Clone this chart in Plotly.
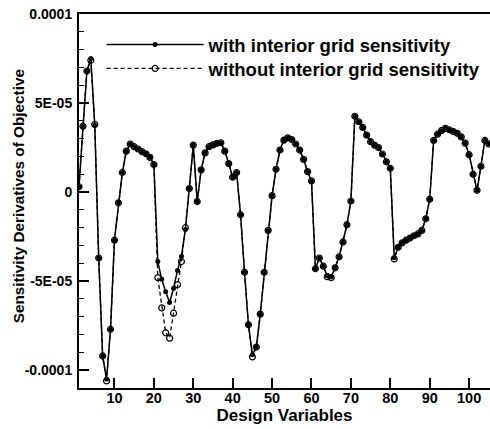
import plotly.graph_objects as go

design_vars = list(range(1, 106))

# values in units of 1E-05
with_grid = [
    0.3, 3.7, 6.8, 7.5, 3.76, -3.7, -9.2, -10.5, -7.7, -2.7,
    -0.6, 1.1, 2.3, 2.7, 2.55, 2.42, 2.27, 2.15, 1.95, 1.55,
    -3.9, -4.9, -5.6, -6.2, -5.4, -4.4, -3.6, -2.1, 0.2, 2.64,
    -0.53, 1.25, 2.2, 2.55, 2.65, 2.74, 2.77, 2.3, 1.6, 0.84,
    1.1, -1.27, -4.5, -7.45, -9.13, -8.7, -6.85, -4.5, -2.15, -0.2,
    1.28, 2.36, 2.92, 3.05, 2.95, 2.7, 2.36, 1.84, 1.15, 0.63,
    -4.3, -3.7, -4.16, -4.7, -4.75, -4.25, -3.63, -2.8, -1.83, -0.5,
    4.26, 3.95, 3.63, 3.2, 2.83, 2.64, 2.5, 2.14, 1.7, 1.34,
    -3.69, -3.1, -2.85, -2.7, -2.58, -2.45, -2.35, -2.15, -1.5, -0.4,
    2.9, 3.25, 3.45, 3.58, 3.5, 3.4, 3.3, 3.1, 2.75, 2.1,
    1.0, 0.1, 1.45, 2.9, 2.7,
]
without_grid = [
    0.3, 3.7, 6.8, 7.4, 3.8, -3.7, -9.2, -10.6, -7.7, -2.7,
    -0.6, 1.1, 2.3, 2.7, 2.55, 2.42, 2.27, 2.15, 1.95, 1.55,
    -4.8, -6.5, -7.9, -8.2, -6.8, -5.2, -3.9, -2.0, 0.2, 2.64,
    -0.53, 1.25, 2.2, 2.55, 2.65, 2.74, 2.77, 2.3, 1.6, 0.84,
    1.1, -1.27, -4.5, -7.45, -9.25, -8.7, -6.85, -4.5, -2.15, -0.2,
    1.28, 2.36, 2.92, 3.05, 2.95, 2.7, 2.36, 1.84, 1.15, 0.63,
    -4.3, -3.7, -4.16, -4.75, -4.8, -4.25, -3.63, -2.8, -1.83, -0.5,
    4.26, 3.95, 3.63, 3.2, 2.83, 2.64, 2.5, 2.14, 1.7, 1.34,
    -3.75, -3.1, -2.85, -2.7, -2.58, -2.45, -2.35, -2.15, -1.5, -0.4,
    2.9, 3.25, 3.45, 3.58, 3.5, 3.4, 3.3, 3.1, 2.75, 2.1,
    1.0, 0.1, 1.45, 2.9, 2.7,
]
scale = 1e-5

y_tickvals = [-1e-4, -5e-5, 0, 5e-5, 1e-4]
y_ticktext = ["-0.0001", "-5E-05", "0", "5E-05", "0.0001"]
x_tickvals = [10, 20, 30, 40, 50, 60, 70, 80, 90, 100]

FONT = "Liberation Sans, Arial, sans-serif"
legend_common = dict(
    xanchor="left", yanchor="top",
    bgcolor="rgba(0,0,0,0)", borderwidth=0,
    font=dict(size=18.5, family=FONT, weight="bold"),
    itemwidth=97,
)

fig = go.Figure()
fig.add_trace(go.Scatter(
    x=design_vars, y=[v * scale for v in without_grid],
    mode="lines+markers", name="without interior grid sensitivity",
    line=dict(color="black", width=1.3, dash="4px,3px"),
    marker=dict(symbol="circle-open", size=6, color="black", line=dict(width=1.2)),
    legend="legend2",
))
fig.add_trace(go.Scatter(
    x=design_vars, y=[v * scale for v in with_grid],
    mode="lines+markers", name="with interior grid sensitivity",
    line=dict(color="black", width=1.5),
    marker=dict(symbol="circle", size=5, color="black"),
    legend="legend",
))

fig.add_annotation(
    text="Sensitivity Derivatives of Objective",
    xref="paper", yref="paper", x=-0.148, y=0.513,
    xanchor="center", yanchor="middle", textangle=-90, showarrow=False,
    font=dict(size=15.3, family=FONT, weight="bold", color="black"),
)

fig.update_layout(
    width=490, height=429,
    margin=dict(l=79, r=0, t=14, b=41),
    paper_bgcolor="white", plot_bgcolor="white",
    font=dict(family=FONT, color="black"),
    showlegend=True,
    legend=dict(x=0.055, y=0.968, **legend_common),
    legend2=dict(x=0.055, y=0.904, **legend_common),
    xaxis=dict(
        range=[1, 105.3], showgrid=False, zeroline=False,
        showline=True, linecolor="black", linewidth=2, mirror=True,
        ticks="inside", ticklen=10, tickwidth=1.5, tickcolor="black",
        tickmode="array", tickvals=x_tickvals,
        tickfont=dict(size=14.5, family=FONT, weight="bold"),
        ticklabelstandoff=-4,
        title=dict(text="Design Variables", font=dict(size=17, family=FONT, weight="bold"), standoff=2),
    ),
    yaxis=dict(
        range=[-0.00011, 0.0001], showgrid=False, zeroline=False,
        showline=True, linecolor="black", linewidth=2,
        ticks="inside", ticklen=10, tickwidth=1.5, tickcolor="black",
        tickmode="array", tickvals=y_tickvals, ticktext=y_ticktext,
        minor=dict(tickmode="linear", tick0=0, dtick=1e-5, ticks="inside", ticklen=5, tickcolor="black", tickwidth=1),
        tickfont=dict(size=14, family=FONT, weight="bold"),
        ticklabelstandoff=2,
    ),
)

fig.write_html("out.html")
